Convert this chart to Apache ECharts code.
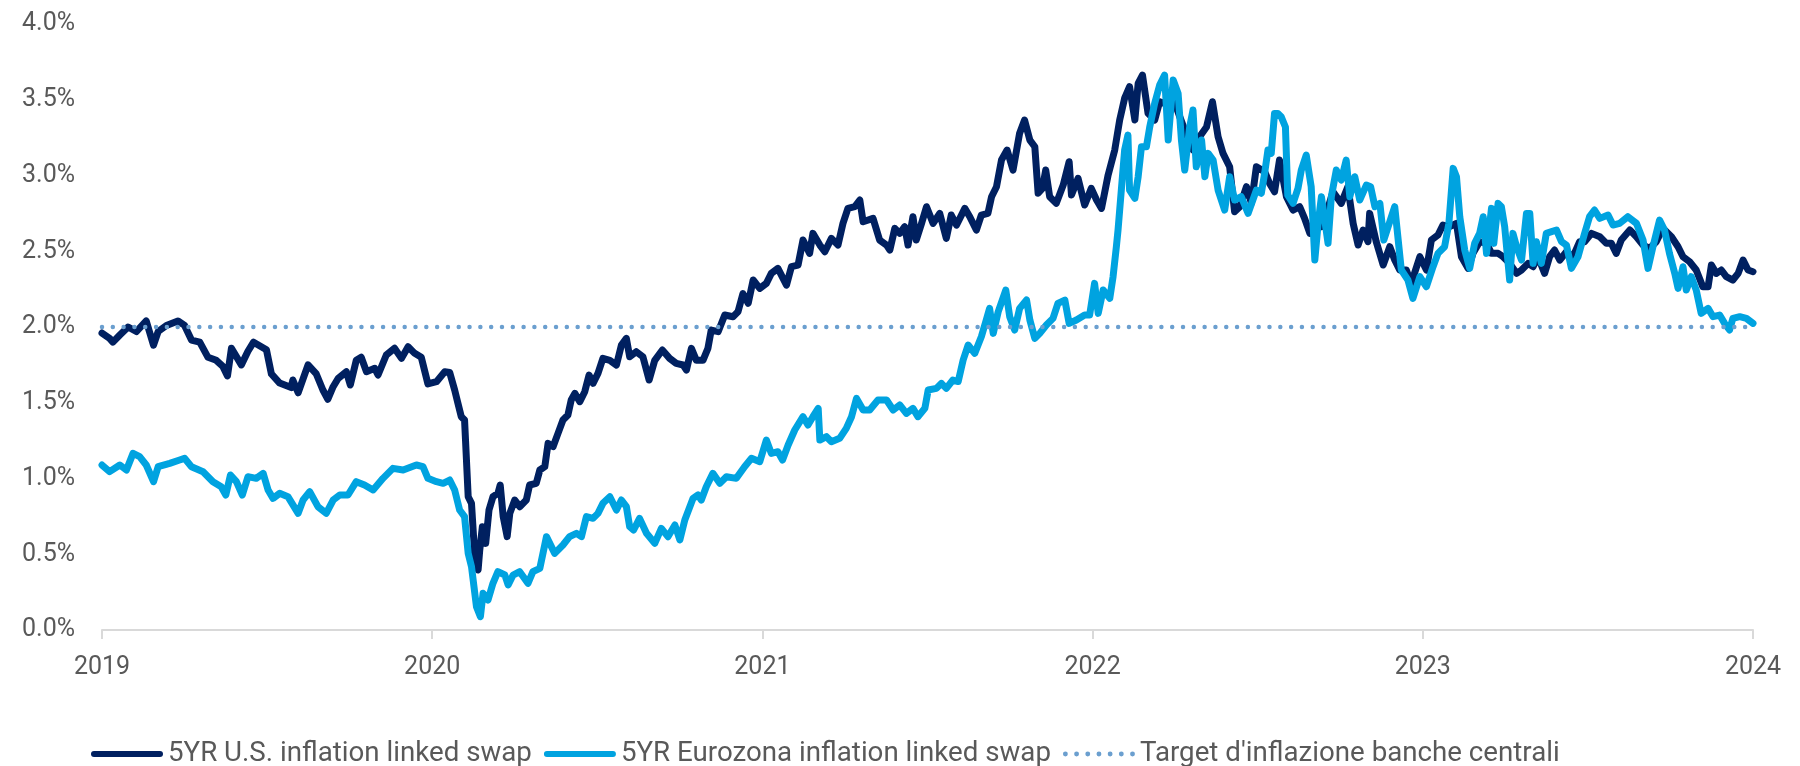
<!DOCTYPE html>
<html>
<head>
<meta charset="utf-8">
<script src="https://cdn.jsdelivr.net/npm/echarts@6/dist/echarts.min.js"></script>
<style>
html, body { margin: 0; padding: 0; background: #fff; }
#main { width: 1800px; height: 766px; }
</style>
</head>
<body>
<div id="main"></div>
<script>
// years as decimal (2019.5 = mid 2019), values in %
var usYears = [
  2019.000, 2019.023, 2019.033, 2019.054, 2019.079, 2019.104, 2019.134, 2019.156, 2019.170, 2019.195,
  2019.230, 2019.250, 2019.271, 2019.296, 2019.321, 2019.346, 2019.366, 2019.380, 2019.392, 2019.422,
  2019.442, 2019.459, 2019.498, 2019.513, 2019.538, 2019.573, 2019.578, 2019.594, 2019.624, 2019.649,
  2019.669, 2019.684, 2019.700, 2019.715, 2019.740, 2019.752, 2019.770, 2019.785, 2019.801, 2019.826,
  2019.836, 2019.861, 2019.886, 2019.907, 2019.927, 2019.947, 2019.967, 2019.987,
  2020.013, 2020.038, 2020.053, 2020.068, 2020.078, 2020.088, 2020.098, 2020.109, 2020.119, 2020.129,
  2020.139, 2020.144, 2020.152, 2020.162, 2020.172, 2020.184, 2020.199, 2020.206, 2020.215, 2020.227,
  2020.235, 2020.250, 2020.265, 2020.285, 2020.295, 2020.315, 2020.326, 2020.341, 2020.351, 2020.366,
  2020.381, 2020.396, 2020.411, 2020.421, 2020.432, 2020.447, 2020.462, 2020.475, 2020.487, 2020.502,
  2020.517, 2020.538, 2020.558, 2020.573, 2020.588, 2020.598, 2020.618, 2020.638, 2020.657, 2020.674,
  2020.697, 2020.719, 2020.739, 2020.760, 2020.770, 2020.785, 2020.800, 2020.820, 2020.835, 2020.845,
  2020.866, 2020.886, 2020.911, 2020.926, 2020.941, 2020.957, 2020.972, 2020.992,
  2021.012, 2021.027, 2021.047, 2021.073, 2021.088, 2021.108, 2021.123, 2021.143, 2021.153, 2021.174,
  2021.189, 2021.209, 2021.229, 2021.244, 2021.259, 2021.280, 2021.295, 2021.305, 2021.335, 2021.355,
  2021.376, 2021.386, 2021.401, 2021.416, 2021.431, 2021.441, 2021.456, 2021.466, 2021.482, 2021.497,
  2021.517, 2021.537, 2021.557, 2021.572, 2021.588, 2021.613, 2021.628, 2021.648, 2021.663, 2021.683,
  2021.694, 2021.709, 2021.724, 2021.741, 2021.759, 2021.779, 2021.794, 2021.810, 2021.825, 2021.835,
  2021.848, 2021.858, 2021.870, 2021.890, 2021.911, 2021.929, 2021.936, 2021.956, 2021.976, 2021.996,
  2022.012, 2022.027, 2022.047, 2022.067, 2022.082, 2022.097, 2022.112, 2022.128, 2022.138, 2022.151,
  2022.168, 2022.188, 2022.203, 2022.218, 2022.244, 2022.264, 2022.294, 2022.304, 2022.324, 2022.345,
  2022.363, 2022.380, 2022.395, 2022.415, 2022.430, 2022.446, 2022.466, 2022.481, 2022.496, 2022.521,
  2022.536, 2022.551, 2022.566, 2022.587, 2022.607, 2022.627, 2022.642, 2022.658, 2022.673, 2022.693,
  2022.708, 2022.728, 2022.753, 2022.773, 2022.789, 2022.804, 2022.819, 2022.834, 2022.839, 2022.859,
  2022.880, 2022.900, 2022.915, 2022.930, 2022.950, 2022.965, 2022.991,
  2023.011, 2023.026, 2023.046, 2023.061, 2023.081, 2023.102, 2023.117, 2023.137, 2023.152, 2023.172,
  2023.193, 2023.208, 2023.228, 2023.243, 2023.263, 2023.284, 2023.299, 2023.319, 2023.334, 2023.349,
  2023.369, 2023.384, 2023.399, 2023.415, 2023.435, 2023.455, 2023.475, 2023.490, 2023.511, 2023.536,
  2023.556, 2023.571, 2023.586, 2023.601, 2023.627, 2023.647, 2023.667, 2023.687, 2023.707, 2023.727,
  2023.753, 2023.773, 2023.788, 2023.808, 2023.828, 2023.848, 2023.864, 2023.874, 2023.889, 2023.904,
  2023.919, 2023.939, 2023.955, 2023.970, 2023.985, 2024.000
];
var usValues = [
  1.96, 1.925, 1.90, 1.947, 2.00, 1.97, 2.04, 1.88, 1.97, 2.01,
  2.04, 2.01, 1.914, 1.90, 1.80, 1.78, 1.74, 1.677, 1.86, 1.75,
  1.84, 1.90, 1.85, 1.69, 1.63, 1.60, 1.65, 1.566, 1.75, 1.69,
  1.584, 1.523, 1.606, 1.66, 1.705, 1.617, 1.78, 1.80, 1.705, 1.727,
  1.683, 1.815, 1.86, 1.793, 1.87, 1.826, 1.80, 1.624,
  1.639, 1.705, 1.70, 1.584, 1.496, 1.408, 1.386, 0.88, 0.836, 0.484,
  0.396, 0.528, 0.682, 0.572, 0.792, 0.88, 0.902, 0.957, 0.748, 0.616,
  0.77, 0.858, 0.814, 0.858, 0.957, 0.968, 1.056, 1.078, 1.232, 1.21,
  1.298, 1.386, 1.419, 1.518, 1.562, 1.507, 1.573, 1.683, 1.628, 1.694,
  1.793, 1.78, 1.749, 1.88, 1.925, 1.804, 1.837, 1.804, 1.65, 1.78,
  1.848, 1.793, 1.76, 1.749, 1.716, 1.859, 1.78, 1.78, 1.859, 1.98,
  1.969, 2.079, 2.068, 2.10, 2.22, 2.157, 2.31, 2.255,
  2.288, 2.354, 2.387, 2.277, 2.398, 2.409, 2.574, 2.486, 2.618, 2.541,
  2.497, 2.585, 2.541, 2.684, 2.783, 2.794, 2.838, 2.695, 2.717, 2.574,
  2.541, 2.508, 2.651, 2.618, 2.662, 2.541, 2.728, 2.574, 2.684, 2.794,
  2.684, 2.75, 2.585, 2.739, 2.673, 2.783, 2.728, 2.64, 2.739, 2.75,
  2.86, 2.926, 3.102, 3.168, 3.036, 3.279, 3.366, 3.234, 3.19, 2.883,
  2.915, 3.036, 2.86, 2.816, 2.937, 3.091, 2.871, 2.981, 2.805, 2.915,
  2.838, 2.783, 3.003, 3.168, 3.366, 3.51, 3.586, 3.366, 3.608, 3.663,
  3.41, 3.366, 3.487, 3.476, 3.51, 3.388, 3.212, 3.168, 3.256, 3.32,
  3.487, 3.256, 3.146, 3.058, 2.761, 2.794, 2.926, 2.816, 3.058, 3.025,
  2.948, 2.893, 3.102, 2.86, 2.772, 2.794, 2.717, 2.618, 2.684, 2.662,
  2.75, 2.893, 2.816, 2.926, 2.684, 2.541, 2.64, 2.563, 2.75, 2.563,
  2.409, 2.53, 2.442, 2.376, 2.376, 2.288, 2.464,
  2.376, 2.574, 2.607, 2.673, 2.662, 2.684, 2.464, 2.387, 2.486, 2.563,
  2.552, 2.486, 2.486, 2.464, 2.42, 2.354, 2.376, 2.42, 2.398, 2.464,
  2.354, 2.464, 2.508, 2.442, 2.497, 2.464, 2.563, 2.563, 2.618, 2.596,
  2.552, 2.552, 2.486, 2.574, 2.64, 2.596, 2.541, 2.519, 2.563, 2.651,
  2.596, 2.53, 2.464, 2.431, 2.376, 2.266, 2.266, 2.409, 2.354, 2.376,
  2.332, 2.31, 2.354, 2.442, 2.376, 2.365
];

var euYears = [
  2019.000, 2019.023, 2019.054, 2019.074, 2019.094, 2019.114, 2019.134, 2019.156, 2019.170, 2019.205,
  2019.235, 2019.250, 2019.271, 2019.306, 2019.336, 2019.361, 2019.375, 2019.389, 2019.407, 2019.425,
  2019.442, 2019.467, 2019.488, 2019.503, 2019.518, 2019.538, 2019.563, 2019.594, 2019.609, 2019.629,
  2019.654, 2019.679, 2019.700, 2019.720, 2019.745, 2019.770, 2019.795, 2019.821, 2019.851, 2019.881,
  2019.912, 2019.952, 2019.972, 2019.987,
  2020.013, 2020.033, 2020.053, 2020.068, 2020.083, 2020.098, 2020.109, 2020.119, 2020.134, 2020.146,
  2020.154, 2020.169, 2020.184, 2020.199, 2020.220, 2020.230, 2020.245, 2020.265, 2020.290, 2020.305,
  2020.326, 2020.346, 2020.371, 2020.396, 2020.416, 2020.437, 2020.452, 2020.467, 2020.487, 2020.502,
  2020.517, 2020.538, 2020.558, 2020.573, 2020.588, 2020.598, 2020.610, 2020.628, 2020.649, 2020.674,
  2020.694, 2020.714, 2020.735, 2020.750, 2020.765, 2020.790, 2020.805, 2020.815, 2020.830, 2020.850,
  2020.871, 2020.891, 2020.921, 2020.946, 2020.967, 2020.992,
  2021.012, 2021.027, 2021.047, 2021.061, 2021.078, 2021.098, 2021.123, 2021.138, 2021.153, 2021.169,
  2021.174, 2021.194, 2021.209, 2021.234, 2021.254, 2021.270, 2021.285, 2021.305, 2021.325, 2021.350,
  2021.376, 2021.396, 2021.416, 2021.436, 2021.456, 2021.471, 2021.492, 2021.502, 2021.527, 2021.542,
  2021.557, 2021.577, 2021.593, 2021.608, 2021.623, 2021.643, 2021.663, 2021.678, 2021.688, 2021.699,
  2021.714, 2021.737, 2021.749, 2021.764, 2021.779, 2021.800, 2021.810, 2021.825, 2021.840, 2021.860,
  2021.880, 2021.895, 2021.916, 2021.929, 2021.951, 2021.976, 2021.991,
  2022.006, 2022.017, 2022.032, 2022.052, 2022.062, 2022.072, 2022.077, 2022.087, 2022.097, 2022.107,
  2022.112, 2022.128, 2022.138, 2022.148, 2022.163, 2022.173, 2022.188, 2022.203, 2022.218, 2022.229,
  2022.244, 2022.259, 2022.269, 2022.279, 2022.294, 2022.304, 2022.314, 2022.330, 2022.340, 2022.350,
  2022.365, 2022.380, 2022.400, 2022.415, 2022.430, 2022.450, 2022.471, 2022.496, 2022.511, 2022.521,
  2022.531, 2022.541, 2022.551, 2022.561, 2022.571, 2022.584, 2022.591, 2022.607, 2022.622, 2022.632,
  2022.647, 2022.662, 2022.673, 2022.683, 2022.693, 2022.713, 2022.723, 2022.738, 2022.753, 2022.768,
  2022.779, 2022.794, 2022.809, 2022.829, 2022.842, 2022.855, 2022.870, 2022.882, 2022.895, 2022.915,
  2022.935, 2022.955, 2022.970, 2022.991,
  2023.011, 2023.031, 2023.046, 2023.066, 2023.079, 2023.092, 2023.102, 2023.112, 2023.127, 2023.142,
  2023.157, 2023.172, 2023.183, 2023.193, 2023.208, 2023.215, 2023.228, 2023.238, 2023.248, 2023.263,
  2023.273, 2023.284, 2023.299, 2023.314, 2023.324, 2023.334, 2023.344, 2023.359, 2023.374, 2023.390,
  2023.405, 2023.420, 2023.435, 2023.450, 2023.470, 2023.490, 2023.505, 2023.520, 2023.536, 2023.561,
  2023.576, 2023.596, 2023.621, 2023.647, 2023.667, 2023.682, 2023.697, 2023.717, 2023.732, 2023.747,
  2023.763, 2023.773, 2023.788, 2023.798, 2023.813, 2023.828, 2023.843, 2023.864, 2023.879, 2023.899,
  2023.914, 2023.929, 2023.939, 2023.960, 2023.980, 2024.000
];
var euValues = [
  1.089, 1.045, 1.089, 1.056, 1.166, 1.144, 1.089, 0.979, 1.078, 1.10,
  1.122, 1.133, 1.078, 1.045, 0.979, 0.946, 0.891, 1.023, 0.979, 0.891,
  1.012, 1.001, 1.034, 0.924, 0.869, 0.902, 0.88, 0.77, 0.858, 0.913,
  0.814, 0.77, 0.858, 0.891, 0.891, 0.979, 0.957, 0.924, 1.001, 1.067,
  1.056, 1.089, 1.078, 1.001,
  0.979, 0.968, 0.99, 0.924, 0.792, 0.748, 0.506, 0.418, 0.154, 0.088,
  0.242, 0.198, 0.308, 0.385, 0.363, 0.297, 0.363, 0.385, 0.308, 0.385,
  0.407, 0.616, 0.506, 0.561, 0.616, 0.638, 0.616, 0.748, 0.737, 0.77,
  0.836, 0.88, 0.792, 0.858, 0.814, 0.682, 0.66, 0.737, 0.638, 0.572,
  0.671, 0.616, 0.693, 0.594, 0.726, 0.869, 0.891, 0.858, 0.946, 1.034,
  0.968, 1.012, 1.001, 1.078, 1.133, 1.111,
  1.254, 1.166, 1.177, 1.122, 1.221, 1.32, 1.408, 1.353, 1.408, 1.463,
  1.254, 1.276, 1.243, 1.265, 1.331, 1.408, 1.529, 1.452, 1.452, 1.518,
  1.518, 1.452, 1.485, 1.43, 1.463, 1.408, 1.463, 1.584, 1.595, 1.628,
  1.595, 1.65, 1.64, 1.782, 1.881, 1.826, 1.936, 2.046, 2.123, 1.958,
  2.10, 2.244, 2.068, 1.98, 2.123, 2.178, 2.046, 1.925, 1.958, 2.013,
  2.057, 2.156, 2.178, 2.024, 2.046, 2.079, 2.079,
  2.288, 2.09, 2.244, 2.189, 2.332, 2.53, 2.64, 2.904, 3.168, 3.267,
  2.904, 2.849, 2.992, 3.19, 3.19, 3.32, 3.476, 3.597, 3.663, 3.234,
  3.63, 3.542, 3.234, 3.036, 3.32, 3.432, 3.058, 3.234, 2.992, 3.146,
  3.102, 2.904, 2.772, 2.992, 2.838, 2.86, 2.75, 2.904, 2.883, 3.014,
  3.168, 3.146, 3.41, 3.41, 3.388, 3.32, 2.871, 2.816, 2.915, 3.036,
  3.135, 2.926, 2.442, 2.684, 2.86, 2.552, 2.86, 3.036, 2.97, 3.102,
  2.86, 2.992, 2.838, 2.937, 2.926, 2.794, 2.816, 2.574, 2.662, 2.794,
  2.376, 2.31, 2.189, 2.332,
  2.266, 2.398, 2.486, 2.53, 2.684, 3.047, 2.992, 2.728, 2.508, 2.387,
  2.552, 2.618, 2.728, 2.486, 2.783, 2.552, 2.816, 2.794, 2.662, 2.31,
  2.618, 2.53, 2.442, 2.75, 2.75, 2.42, 2.563, 2.42, 2.618, 2.629,
  2.64, 2.563, 2.541, 2.387, 2.464, 2.618, 2.728, 2.772, 2.717, 2.739,
  2.673, 2.684, 2.728, 2.684, 2.574, 2.387, 2.53, 2.706, 2.64, 2.486,
  2.354, 2.255, 2.398, 2.244, 2.332, 2.244, 2.09, 2.123, 2.068, 2.079,
  2.024, 1.98, 2.057, 2.068, 2.057, 2.024
];

var targetYears = [2019, 2024];
var targetValues = [2.0, 2.0];

var yearTicks = [2019, 2020, 2021, 2022, 2023, 2024];
var seriesNames = [
  '5YR U.S. inflation linked swap',
  '5YR Eurozona inflation linked swap',
  "Target d'inflazione banche centrali"
];

var navy = '#002060'
var cyan = '#00a3e0'
var steel = '#6b9fcf'

// legend icons: a thick round-capped bar, and a row of 7 dots
var barIcon = 'path://M3,0 L69,0 A3,3 0 0 1 69,6 L3,6 A3,3 0 0 1 3,0 Z'
var dotIcon = 'path://' + [0, 1, 2, 3, 4, 5, 6].map(function (i) {
  var cx = 3 + i * 11
  return 'M' + (cx - 2.4) + ',3 A2.4,2.4 0 1 0 ' + (cx + 2.4) + ',3 A2.4,2.4 0 1 0 ' + (cx - 2.4) + ',3 Z'
}).join(' ')

function pairs (xs, ys) {
  return xs.map(function (x, i) { return [x, ys[i]] })
}

var chart = echarts.init(document.getElementById('main'))
chart.setOption({
  animation: false,
  textStyle: { fontFamily: 'Roboto, "Liberation Sans", sans-serif' },
  grid: {
    left: 102,
    right: 47,
    top: 24,
    bottom: 136
  },
  legend: {
    left: 91,
    top: 740,
    padding: 0,
    itemWidth: 72,
    itemHeight: 6,
    itemGap: 12,
    textStyle: { fontSize: 27.7, color: '#595959' },
    data: [
      { name: seriesNames[0], icon: barIcon, itemStyle: { color: navy } },
      { name: seriesNames[1], icon: barIcon, itemStyle: { color: cyan } },
      { name: seriesNames[2], icon: dotIcon, itemStyle: { color: steel } }
    ]
  },
  xAxis: {
    type: 'value',
    min: yearTicks[0],
    max: yearTicks[yearTicks.length - 1],
    interval: 1,
    axisLine: { lineStyle: { color: '#d9d9d9', width: 2 } },
    axisTick: { show: true, length: 9, lineStyle: { color: '#d9d9d9', width: 2 } },
    axisLabel: {
      fontSize: 25,
      color: '#595959',
      margin: 25,
      showMinLabel: true,
      showMaxLabel: true,
      formatter: function (v) { return String(v) }
    },
    splitLine: { show: false }
  },
  yAxis: {
    type: 'value',
    min: 0,
    max: 4,
    interval: 0.5,
    axisLine: { show: false },
    axisTick: { show: false },
    axisLabel: {
      fontSize: 25,
      color: '#595959',
      margin: 27,
      formatter: function (v) { return v.toFixed(1) + '%' }
    },
    splitLine: { show: false }
  },
  series: [
    {
      name: seriesNames[0],
      type: 'line',
      symbol: 'none',
      data: pairs(usYears, usValues),
      lineStyle: { color: navy, width: 7, join: 'round', cap: 'round' },
      itemStyle: { color: navy }
    },
    {
      name: seriesNames[1],
      type: 'line',
      symbol: 'none',
      data: pairs(euYears, euValues),
      lineStyle: { color: cyan, width: 7, join: 'round', cap: 'round' },
      itemStyle: { color: cyan }
    },
    {
      name: seriesNames[2],
      type: 'line',
      symbol: 'none',
      data: pairs(targetYears, targetValues),
      lineStyle: { color: steel, width: 4.5, type: [0.01, 10.8], cap: 'round' },
      itemStyle: { color: steel }
    }
  ]
})
</script>
</body>
</html>
